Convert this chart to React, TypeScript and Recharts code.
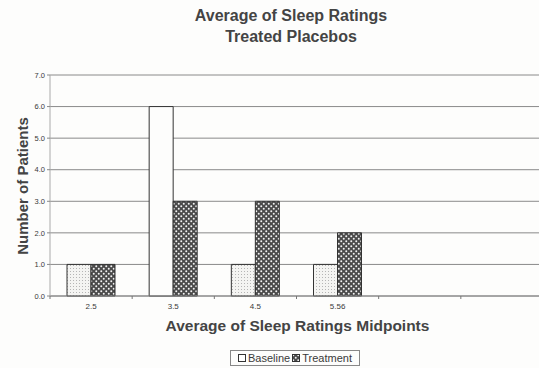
import React from "react";
import { Bar, BarChart, CartesianGrid, Cell, XAxis, YAxis } from "recharts";

const midpoints = ["2.5", "3.5", "4.5", "5.56", "", " "];
const baseline = [1, 6, 1, 1, null, null];
const treatment = [1, 3, 3, 2, null, null];
const yTicks = [0, 1, 2, 3, 4, 5, 6, 7];

const data = midpoints.map((m, i) => ({
  midpoint: m,
  baseline: baseline[i],
  treatment: treatment[i],
}));

const W = 539;
const H = 368;
const PLOT_LEFT = 50;
const PLOT_RIGHT = 4;
const BAND = (W - PLOT_LEFT + PLOT_RIGHT) / midpoints.length;

const ink = "#3a3a3a";

function XTick(props: any) {
  const { x, y, payload } = props;
  return (
    <g>
      <line x1={x - BAND / 2} x2={x - BAND / 2} y1={y - 8} y2={y - 5} stroke="#777" strokeWidth={1} />
      <text x={x} y={y + 5} textAnchor="middle" fontSize={8} fill={ink} fontFamily="Arial, Liberation Sans, sans-serif">
        {payload.value}
      </text>
    </g>
  );
}

export default function App() {
  return (
    <div style={{ position: "absolute", left: 0, top: 0, width: W, height: H, background: "#fdfdfc", fontFamily: "Arial, 'Liberation Sans', sans-serif", overflow: "hidden" }}>
      <div style={{ position: "absolute", left: 0, width: 582, top: 5, textAlign: "center", fontWeight: "bold", fontSize: 16, lineHeight: "21px", color: "#444" }}>
        Average of Sleep Ratings
        <br />
        Treated Placebos
      </div>
      <BarChart
        width={W + PLOT_RIGHT}
        height={H}
        data={data}
        margin={{ top: 75, right: 0, bottom: 0, left: 0 }}
        barGap={0}
        barSize={24}
      >
        <defs>
          <pattern id="stipple" width="3" height="3" patternUnits="userSpaceOnUse">
            <rect width="3" height="3" fill="#f4f4f2" />
            <rect x="1" y="1" width="1" height="1" fill="#b5b5b5" />
          </pattern>
          <pattern id="checks" width="5" height="5" patternUnits="userSpaceOnUse">
            <rect width="5" height="5" fill="#4a4a4a" />
            <circle cx="1.25" cy="1.25" r="1" fill="#f2f2f2" />
            <circle cx="3.75" cy="3.75" r="1" fill="#f2f2f2" />
          </pattern>
        </defs>
        <CartesianGrid vertical={false} stroke="#8a8a8a" strokeWidth={1} />
        <XAxis
          dataKey="midpoint"
          height={72}
          tick={<XTick />}
          tickLine={false}
          axisLine={{ stroke: "#888" }}
          interval={0}
        />
        <YAxis
          width={PLOT_LEFT}
          domain={[0, 7]}
          ticks={yTicks}
          tickFormatter={(v: number) => v.toFixed(1)}
          tick={{ fontSize: 7.5, fill: ink }}
          tickSize={3}
          tickLine={{ stroke: "#888" }}
          axisLine={{ stroke: "#aaa" }}
          interval={0}
        />
        <Bar dataKey="baseline" stroke="#333" strokeWidth={1} isAnimationActive={false}>
          {baseline.map((v, i) => (
            <Cell key={i} fill={v === 6 ? "#fdfdfc" : "url(#stipple)"} />
          ))}
        </Bar>
        <Bar dataKey="treatment" fill="url(#checks)" stroke="#333" strokeWidth={1} isAnimationActive={false} />
      </BarChart>
      <div style={{ position: "absolute", left: 12, top: 186, transform: "translate(-50%, -50%) rotate(-90deg)", transformOrigin: "center", whiteSpace: "nowrap", marginLeft: 10, fontWeight: "bold", fontSize: 15, color: "#444" }}>
        Number of Patients
      </div>
      <div style={{ position: "absolute", left: 0, width: 595, top: 317, textAlign: "center", fontWeight: "bold", fontSize: 15.5, color: "#444" }}>
        Average of Sleep Ratings Midpoints
      </div>
      <div style={{ position: "absolute", left: 230, top: 350, width: 130, height: 16, border: "1px solid #888", boxSizing: "border-box", display: "flex", alignItems: "center", justifyContent: "center", fontSize: 11, color: ink, gap: 2 }}>
        <svg width={8} height={8}>
          <rect x={0.5} y={0.5} width={7} height={7} fill="#fff" stroke="#333" />
        </svg>
        <span>Baseline</span>
        <svg width={8} height={8}>
          <rect x={0.5} y={0.5} width={7} height={7} fill="url(#checks)" stroke="#333" />
        </svg>
        <span>Treatment</span>
      </div>
    </div>
  );
}
